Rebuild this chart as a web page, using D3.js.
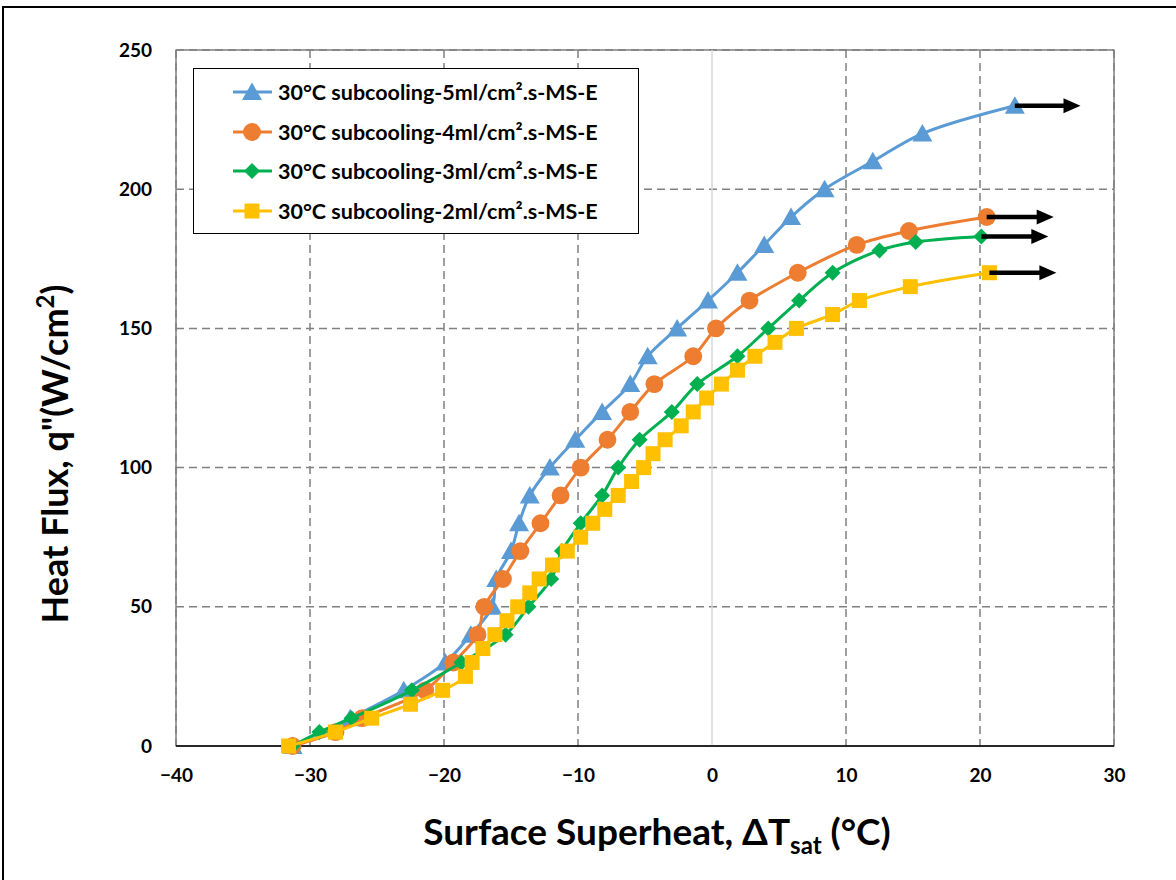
<!DOCTYPE html>
<html>
<head>
<meta charset="utf-8">
<script src="https://cdn.jsdelivr.net/npm/d3@7"></script>
<style>
  html, body { margin: 0; padding: 0; background: #fff; }
  svg { display: block; }
  text { font-family: Lato, "Open Sans", "Liberation Sans", sans-serif; font-weight: 700; fill: #000; }
</style>
</head>
<body>
<svg id="chart" width="1176" height="880"></svg>
<script>
// Boiling curves: heat flux vs surface superheat for four spray flow rates
const seriesNames = [
  "30°C subcooling-5ml/cm².s-MS-E",
  "30°C subcooling-4ml/cm².s-MS-E",
  "30°C subcooling-3ml/cm².s-MS-E",
  "30°C subcooling-2ml/cm².s-MS-E"
];
const seriesColors = ["#5B9BD5", "#ED7D31", "#00B050", "#FFC000"];
const seriesMarkers = ["triangle", "circle", "diamond", "square"];

const flow5X = [-31.3, -27.0, -23.0, -19.9, -18.0, -16.4, -16.1, -15.0, -14.4, -13.6, -12.1, -10.2, -8.2, -6.1, -4.8, -2.6, -0.3, 1.9, 3.9, 5.9, 8.4, 12.0, 15.7, 22.6];
const flow5Y = [0, 10, 20, 30, 40, 50, 60, 70, 80, 90, 100, 110, 120, 130, 140, 150, 160, 170, 180, 190, 200, 210, 220, 230];

const flow4X = [-31.3, -28.1, -26.1, -21.4, -19.3, -17.5, -17.0, -15.6, -14.3, -12.8, -11.3, -9.8, -7.8, -6.1, -4.3, -1.4, 0.3, 2.8, 6.4, 10.8, 14.7, 20.5];
const flow4Y = [0, 5, 10, 20, 30, 40, 50, 60, 70, 80, 90, 100, 110, 120, 130, 140, 150, 160, 170, 180, 185, 190];

const flow3X = [-31.3, -29.3, -26.9, -22.4, -18.7, -15.4, -13.7, -12.0, -11.2, -9.8, -8.2, -7.0, -5.4, -3.0, -1.1, 1.9, 4.2, 6.5, 9.0, 12.5, 15.2, 20.1];
const flow3Y = [0, 5, 10, 20, 30, 40, 50, 60, 70, 80, 90, 100, 110, 120, 130, 140, 150, 160, 170, 178, 181, 183];

const flow2X = [-31.6, -28.1, -25.4, -22.5, -20.1, -18.4, -17.9, -17.1, -16.2, -15.3, -14.5, -13.6, -12.9, -11.9, -10.8, -9.8, -8.9, -8.0, -7.0, -6.0, -5.1, -4.4, -3.5, -2.3, -1.4, -0.4, 0.7, 1.9, 3.2, 4.7, 6.3, 9.0, 11.0, 14.8, 20.7];
const flow2Y = [0, 5, 10, 15, 20, 25, 30, 35, 40, 45, 50, 55, 60, 65, 70, 75, 80, 85, 90, 95, 100, 105, 110, 115, 120, 125, 130, 135, 140, 145, 150, 155, 160, 165, 170];

// right-pointing arrows from the last point of each curve (x where the arrow tip ends)
const arrowEndX = [27.5, 25.5, 25.1, 25.7];

const xTicks = [-40, -30, -20, -10, 0, 10, 20, 30];
const yTicks = [0, 50, 100, 150, 200, 250];

const seriesX = [flow5X, flow4X, flow3X, flow2X];
const seriesY = [flow5Y, flow4Y, flow3Y, flow2Y];

const svg = d3.select("#chart");
const W = 1176, H = 880;
const plot = { left: 176, right: 1114, top: 50, bottom: 746 };

const x = d3.scaleLinear().domain([-40, 30]).range([plot.left, plot.right]);
const y = d3.scaleLinear().domain([0, 250]).range([plot.bottom, plot.top]);

// outer frame
svg.append("rect").attr("x", 3).attr("y", 7).attr("width", W + 20).attr("height", H + 20)
  .attr("fill", "#fff").attr("stroke", "#000").attr("stroke-width", 2);

// plot border
svg.append("rect").attr("x", plot.left).attr("y", plot.top)
  .attr("width", plot.right - plot.left).attr("height", plot.bottom - plot.top)
  .attr("fill", "none").attr("stroke", "#404040").attr("stroke-width", 1);

// gridlines
const grid = svg.append("g");
grid.selectAll("line.h").data(yTicks.filter(d => d > 0)).join("line")
  .attr("x1", plot.left).attr("x2", plot.right)
  .attr("y1", d => y(d)).attr("y2", d => y(d))
  .attr("stroke", "#808080").attr("stroke-width", 1.5).attr("stroke-dasharray", "8,5");
grid.selectAll("line.v").data(xTicks.filter(d => d !== 0)).join("line")
  .attr("x1", d => x(d)).attr("x2", d => x(d))
  .attr("y1", plot.top).attr("y2", plot.bottom)
  .attr("stroke", "#808080").attr("stroke-width", 1.5).attr("stroke-dasharray", "8,5");
// value axis line crossing at x = 0
svg.append("line").attr("x1", x(0)).attr("x2", x(0)).attr("y1", plot.top).attr("y2", plot.bottom)
  .attr("stroke", "#D9D9D9").attr("stroke-width", 1.5);
// category axis line at y = 0
svg.append("line").attr("x1", plot.left).attr("x2", plot.right).attr("y1", y(0)).attr("y2", y(0))
  .attr("stroke", "#000").attr("stroke-width", 1.5);

// tick labels via d3 axes (lines hidden)
const xAxis = svg.append("g").attr("transform", `translate(0,${plot.bottom})`)
  .call(d3.axisBottom(x).tickValues(xTicks).tickSize(0).tickPadding(23).tickFormat(d3.format("d")));
xAxis.select(".domain").remove();
xAxis.selectAll("text").style("font-size", "19px").attr("font-family", null);

const yAxis = svg.append("g").attr("transform", `translate(${plot.left},0)`)
  .call(d3.axisLeft(y).tickValues(yTicks).tickSize(0).tickPadding(24).tickFormat(d3.format("d")));
yAxis.select(".domain").remove();
yAxis.selectAll("text").style("font-size", "19px").attr("font-family", null);

// marker shapes
function markerPath(kind) {
  switch (kind) {
    case "triangle": return "M0,-9.5L10,8L-10,8Z";
    case "circle": return d3.symbol(d3.symbolCircle, 250)();
    case "diamond": return "M0,-8L8,0L0,8L-8,0Z";
    case "square": return "M-7.5,-7.5H7.5V7.5H-7.5Z";
  }
}

const line = d3.line().x(d => x(d[0])).y(d => y(d[1])).curve(d3.curveCatmullRom.alpha(0.5));

seriesX.forEach((xs, i) => {
  const pts = xs.map((v, j) => [v, seriesY[i][j]]);
  const g = svg.append("g");
  g.append("path").datum(pts).attr("d", line)
    .attr("fill", "none").attr("stroke", seriesColors[i]).attr("stroke-width", 3);
  g.selectAll("path.m").data(pts).join("path")
    .attr("d", markerPath(seriesMarkers[i]))
    .attr("transform", d => `translate(${x(d[0])},${y(d[1])})`)
    .attr("fill", seriesColors[i]);
});

// arrows at the end of each curve: shaft plus triangular head
const headLen = 17, headHalf = 7.5;
seriesX.forEach((xs, i) => {
  const last = xs.length - 1;
  const yv = y(seriesY[i][last]);
  const x0 = x(xs[last]);
  const tip = x(arrowEndX[i]);
  svg.append("line")
    .attr("x1", x0).attr("y1", yv)
    .attr("x2", tip - headLen + 1).attr("y2", yv)
    .attr("stroke", "#000").attr("stroke-width", 4.5);
  svg.append("path")
    .attr("d", `M${tip - headLen},${yv - headHalf}L${tip},${yv}L${tip - headLen},${yv + headHalf}Z`)
    .attr("fill", "#000");
});

// legend
const lg = svg.append("g");
lg.append("rect").attr("x", 193.5).attr("y", 68.5).attr("width", 445).attr("height", 165)
  .attr("fill", "#fff").attr("stroke", "#000").attr("stroke-width", 1);
const legendRowY = [92, 132, 171, 211];
seriesNames.forEach((name, i) => {
  const ry = legendRowY[i];
  lg.append("line").attr("x1", 233).attr("x2", 272).attr("y1", ry).attr("y2", ry)
    .attr("stroke", seriesColors[i]).attr("stroke-width", 3);
  lg.append("path").attr("d", markerPath(seriesMarkers[i]))
    .attr("transform", `translate(252,${ry})`).attr("fill", seriesColors[i]);
  lg.append("text").attr("x", 278).attr("y", ry).attr("dy", "0.35em")
    .style("font-size", "21.5px").text(name);
});

// axis titles
const xt = svg.append("text").attr("x", 657).attr("y", 845).attr("text-anchor", "middle")
  .style("font-size", "37px");
xt.append("tspan").text("Surface Superheat, ΔT");
xt.append("tspan").attr("dy", 9).style("font-size", "24px").text("sat");
xt.append("tspan").attr("dy", -9).text(" (°C)");

const yt = svg.append("text").attr("transform", "translate(68,454) rotate(-90)")
  .attr("text-anchor", "middle").style("font-size", "36px");
yt.append("tspan").text("Heat Flux, q\"(W/cm");
yt.append("tspan").attr("dy", -14).style("font-size", "24px").text("2");
yt.append("tspan").attr("dy", 14).text(")");
</script>
</body>
</html>
